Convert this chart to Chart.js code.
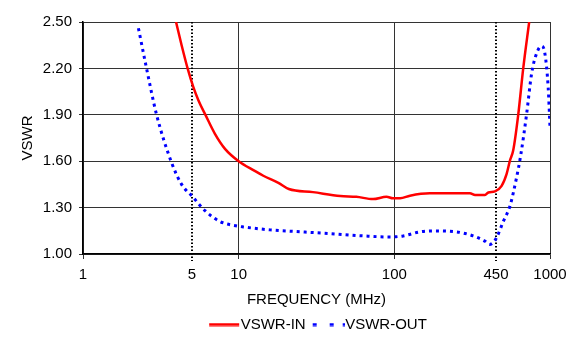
<!DOCTYPE html>
<html lang="en">

<head>
    <meta charset="UTF-8">
    <title>VSWR</title>
    <style>
        body {
            margin: 0;
            background: white;
        }

        #chartBox {
            width: 581px;
            height: 342px;
        }
    </style>
</head>

<body>
    <div id="chartBox"><canvas id="vswrChart"></canvas></div>

    <script src="https://cdn.jsdelivr.net/npm/chart.js@4.4.1/dist/chart.umd.min.js"></script>
    <script type="text/javascript">
        // tick labels
        var xTicks = [1, 5, 10, 100, 450, 1000];
        var yTicks = [1.00, 1.30, 1.60, 1.90, 2.20, 2.50];
        // dotted band edges (MHz)
        var markerFreqs = [5, 450];

        // VSWR-IN
        var freqIn = [3.96, 4.3, 4.7, 5.11, 5.51, 6.14, 7.04, 8.17, 10, 12.6, 14.4, 18, 21, 30, 45, 57, 73, 89, 98, 109, 126, 169, 306, 330, 382, 402, 443, 489, 526, 553, 580, 625, 673, 735];
        var vswrIn = [2.50, 2.35, 2.20, 2.08, 1.994, 1.896, 1.777, 1.68, 1.60, 1.539, 1.506, 1.46, 1.42, 1.40, 1.375, 1.37, 1.355, 1.37, 1.36, 1.36, 1.377, 1.392, 1.392, 1.381, 1.381, 1.398, 1.405, 1.441, 1.517, 1.604, 1.669, 1.90, 2.20, 2.50];

        // VSWR-OUT
        var freqOut = [2.27, 2.56, 2.97, 3.71, 4.3, 5.06, 6.08, 7.59, 9.9, 10.7, 15.9, 23.6, 38.6, 63.2, 93.7, 114, 146, 178, 251, 321, 382, 409, 430, 454, 501, 553, 610, 648, 708, 762, 820, 883, 927, 973, 1000];
        var vswrOut = [2.46, 2.20, 1.90, 1.59, 1.45, 1.37, 1.28, 1.21, 1.18, 1.175, 1.156, 1.145, 1.132, 1.117, 1.11, 1.117, 1.143, 1.149, 1.143, 1.117, 1.083, 1.062, 1.073, 1.106, 1.21, 1.31, 1.495, 1.636, 1.907, 2.167, 2.297, 2.344, 2.297, 2.08, 1.82];

        var font = { family: '"Liberation Sans", Arial, sans-serif', size: 15 };

        function toPoints(xs, ys) {
            return xs.map(function(x, i) { return { x: x, y: ys[i] }; });
        }

        // little legend swatches (line sample, drawn as an image point style)
        function makeSwatch(color, pieces) {
            var c = document.createElement('canvas');
            c.width = 41;
            c.height = 4;
            var g = c.getContext('2d');
            g.fillStyle = color;
            pieces.forEach(function(p) {
                g.fillRect(p[0], 0.5, p[1] - p[0], 3);
            });
            return c;
        }
        var swatches = [
            makeSwatch('#ff0000', [[10, 40]]),
            makeSwatch('#0000ff', [[9, 13], [26, 30], [39, 41]])
        ];

        var markerLines = {
            id: 'markerLines',
            beforeDatasetsDraw: function(chart) {
                var ctx = chart.ctx;
                var area = chart.chartArea;
                var x = chart.scales.x;
                ctx.save();
                ctx.strokeStyle = '#000';
                ctx.lineWidth = 2;
                ctx.setLineDash([1.5, 2]);
                markerFreqs.forEach(function(f) {
                    var px = Math.round(x.getPixelForValue(f));
                    ctx.beginPath();
                    ctx.moveTo(px, area.top);
                    ctx.lineTo(px, area.bottom + 7);
                    ctx.stroke();
                });
                ctx.restore();
            }
        };

        Chart.defaults.color = '#000';
        Chart.defaults.font.family = font.family;
        Chart.defaults.font.size = font.size;

        new Chart(document.getElementById('vswrChart'), {
            type: 'line',
            data: {
                datasets: [{
                    label: 'VSWR-IN',
                    data: toPoints(freqIn, vswrIn),
                    borderColor: '#ff0000',
                    backgroundColor: '#ff0000',
                    borderWidth: 2.5,
                    pointRadius: 0,
                    cubicInterpolationMode: 'monotone'
                }, {
                    label: 'VSWR-OUT',
                    data: toPoints(freqOut, vswrOut),
                    borderColor: '#0000ff',
                    backgroundColor: '#0000ff',
                    borderWidth: 3,
                    borderDash: [3, 4],
                    pointRadius: 0,
                    cubicInterpolationMode: 'monotone'
                }]
            },
            options: {
                responsive: true,
                maintainAspectRatio: false,
                animation: false,
                layout: { padding: { top: 22, right: 31, left: 0, bottom: 0 } },
                plugins: {
                    tooltip: { enabled: false },
                    legend: {
                        position: 'bottom',
                        fullSize: false,
                        labels: {
                            usePointStyle: true,
                            pointStyleWidth: 27,
                            padding: 5,
                            font: font,
                            generateLabels: function(chart) {
                                var items = Chart.defaults.plugins.legend.labels.generateLabels(chart);
                                items.forEach(function(it) {
                                    it.pointStyle = swatches[it.datasetIndex];
                                    it.rotation = 0;
                                });
                                return items;
                            }
                        }
                    }
                },
                scales: {
                    x: {
                        type: 'logarithmic',
                        min: 1,
                        max: 1000,
                        afterBuildTicks: function(s) {
                            s.ticks = xTicks.map(function(v) { return { value: v }; });
                        },
                        afterFit: function(s) { s.height = 58; },
                        ticks: {
                            autoSkip: false,
                            maxRotation: 0,
                            padding: 7,
                            font: font,
                            callback: function(v) { return String(v); }
                        },
                        grid: {
                            color: function(c) {
                                return (c.tick && markerFreqs.indexOf(c.tick.value) >= 0) ? 'rgba(0,0,0,0)' : '#333';
                            },
                            lineWidth: 1,
                            tickLength: 5
                        },
                        border: { color: '#000', width: 1.5 },
                        title: {
                            display: true,
                            text: 'FREQUENCY (MHz)',
                            font: font,
                            padding: { top: 0, bottom: 3 }
                        }
                    },
                    y: {
                        min: 1,
                        max: 2.5,
                        afterBuildTicks: function(s) {
                            s.ticks = yTicks.map(function(v) { return { value: v }; });
                        },
                        afterFit: function(s) { s.width = 83; },
                        ticks: {
                            padding: 7,
                            font: font,
                            callback: function(v) { return v.toFixed(2); }
                        },
                        grid: { color: '#333', lineWidth: 1, tickLength: 4 },
                        border: { color: '#000', width: 1.5 },
                        title: {
                            display: true,
                            text: 'VSWR',
                            font: font,
                            padding: { top: 19, bottom: 0 }
                        }
                    }
                }
            },
            plugins: [markerLines]
        });
    </script>
</body>

</html>
